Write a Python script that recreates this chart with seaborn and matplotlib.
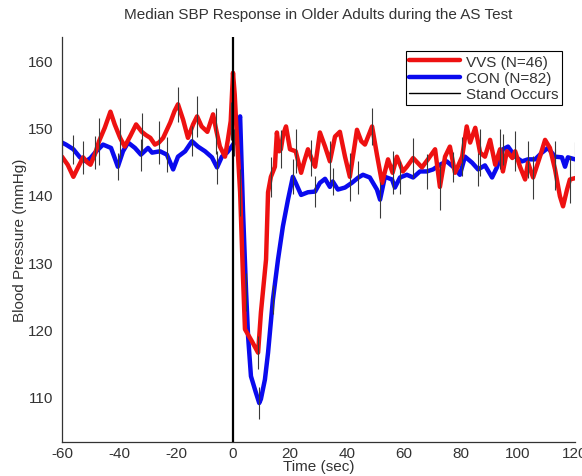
import numpy as np
import pandas as pd
import matplotlib
matplotlib.use("Agg")
import matplotlib.pyplot as plt
from matplotlib.lines import Line2D
import seaborn as sns

# VVS group (red) - time (sec) and median SBP (mmHg)
vvs_t = [-60, -58, -56, -54.5, -52.6, -51, -50, -48.5, -47, -45, -43, -41.5, -39.6, -38, -36, -34,
         -32, -30.5, -29, -27.4, -26, -24.5, -22, -20.5, -19.3, -17.5, -15.8, -14, -12.6, -11, -9, -7,
         -5.8, -4.6, -2.8, -1.8, -0.8, 0, 0.6, 1.2, 2.5, 3.5, 4.2, 6.5, 8.8, 9.8, 11.6, 12.3,
         13.3, 14.7, 15.4, 16.2, 16.8, 17.6, 18.6, 20, 22, 23.9, 25, 26.3, 27.5, 28.8, 30.5, 32.3,
         34, 35.8, 37.5, 39.3, 41, 43.5, 45, 46.3, 48.8, 50.5, 52.3, 54.4, 56, 57.5, 59.6, 61,
         63.2, 66.3, 68.4, 70.9, 72.6, 74.4, 76.1, 77.9, 80.4, 82, 83.2, 85, 86.7, 88.4, 90.2, 92,
         93.7, 94.7, 96.1, 98, 99, 100.7, 102.5, 103.5, 105.3, 107.7, 109.5, 111.2, 113, 114.7, 115.8, 117.2,
         118.2, 120]
vvs_bp = [145.7, 144.5, 142.7, 144.0, 145.6, 144.8, 144.5, 146.0, 148.0, 150.0, 152.4, 150.5, 148.5, 147.2, 148.8, 150.5,
          149.4, 148.9, 148.5, 147.5, 147.8, 148.5, 150.8, 152.5, 153.5, 151.2, 148.5, 150.5, 151.7, 150.2, 149.4, 152.0,
          149.5, 147.2, 145.7, 148.2, 151.0, 158.2, 155.0, 150.0, 140.4, 127.9, 120.0, 118.3, 116.5, 122.5, 130.4, 140.4,
          142.7, 144.2, 149.3, 146.5, 146.8, 149.0, 150.2, 146.8, 146.5, 143.3, 145.0, 146.8, 145.5, 144.2, 149.3, 147.2,
          145.0, 148.7, 149.4, 145.7, 142.7, 149.7, 148.0, 147.5, 150.2, 146.0, 141.8, 145.3, 143.3, 145.7, 143.5, 144.2,
          145.5, 144.1, 145.3, 146.8, 141.2, 145.7, 147.2, 143.3, 145.7, 150.2, 147.8, 150.0, 146.3, 145.7, 148.2, 144.5,
          146.8, 143.5, 146.5, 145.5, 146.5, 144.2, 142.3, 144.8, 142.6, 145.7, 148.2, 147.0, 143.8, 139.8, 138.3, 140.8,
          142.3, 142.5]

# CON group (blue)
con_t = [-60, -58.6, -56, -53.7, -51.6, -50, -48.4, -45.6, -42.8, -41.5, -40.4, -38.6, -36.8, -34.4, -32.3, -29.8,
         -28.4, -25.6, -23.2, -21, -19.3, -16.8, -14.4, -12.3, -9.8, -7.4, -5.6, -3.9, -2.1, -0.8, 0.5, 1.5,
         2.5, 3.5, 4.6, 5.3, 6.3, 8, 9.2, 9.8, 11.2, 12.3, 14, 15.8, 17.5, 19.3, 21, 22,
         23.9, 26.3, 28.8, 30.5, 32.3, 34, 35, 36.8, 39.3, 41.7, 44, 45.6, 48, 50.5, 51.6, 53.3,
         55.8, 56.8, 58.6, 61, 63.2, 65.6, 68, 70.2, 72.6, 75, 77.2, 79.6, 81.4, 83.9, 86, 88.4,
         90.9, 92.6, 94.7, 96.5, 99, 101.4, 103.5, 106, 108.4, 110.5, 113, 115.4, 116.5, 117.5, 120]
con_bp = [147.8, 147.5, 146.8, 145.6, 145.0, 145.5, 146.3, 147.5, 147.0, 145.5, 144.2, 146.5, 147.8, 147.0, 146.0, 147.0,
          146.3, 146.5, 146.0, 143.8, 145.7, 146.5, 148.0, 147.2, 146.5, 145.6, 144.1, 145.7, 146.3, 147.0, 147.8, 150.0,
          151.7, 137.8, 125.5, 118.9, 113.0, 110.6, 109.0, 109.6, 112.5, 116.5, 124.4, 130.4, 135.3, 139.3, 142.7, 141.8,
          140.0, 140.4, 140.5, 141.8, 142.4, 141.2, 142.0, 140.8, 141.1, 141.8, 142.6, 143.0, 142.6, 140.8, 139.3, 142.7,
          142.3, 141.1, 142.6, 143.0, 142.6, 143.5, 143.5, 143.8, 144.5, 145.0, 144.2, 143.0, 145.7, 144.8, 143.8, 144.4,
          142.6, 144.1, 146.8, 147.2, 145.7, 145.0, 145.3, 145.3, 146.3, 147.0, 145.7, 145.6, 144.2, 145.6, 145.3]

# error half-widths shown every 4th sample
vvs_sem = [3.0, 2.5, 3.5, 3.0, 2.8, 3.2, 2.6, 3.0, 3.4, 2.8, 3.5, 2.5, 3.0, 2.8, 3.3, 2.7,
           3.0, 3.6, 2.8, 3.2, 3.0, 3.4, 2.9, 3.5, 3.0, 3.0, 3.2, 3.0, 3.5]
con_sem = [2.2, 2.5, 2.0, 2.4, 2.6, 2.2, 2.5, 2.0, 2.8, 2.4, 2.2, 2.6, 2.3, 2.0, 2.5, 2.7,
           2.4, 2.6, 2.2, 2.5, 2.3, 2.8, 2.4, 2.6, 2.5, 2.2]

sns.set_style("white")
plt.rcParams['font.family'] = ['Liberation Sans', 'DejaVu Sans']
plt.rcParams['font.size'] = 11
plt.rcParams['axes.unicode_minus'] = False
txt = '#333333'

vvs = pd.DataFrame({'t': vvs_t, 'bp': vvs_bp})
con = pd.DataFrame({'t': con_t, 'bp': con_bp})

fig = plt.figure(figsize=(5.82, 4.77), dpi=100)
ax = fig.add_axes([0.1065, 0.0713, 0.8815, 0.8487])

sns.lineplot(data=con, x='t', y='bp', color='#0a0aee', linewidth=3.2, estimator=None, sort=False, ax=ax)
sns.lineplot(data=vvs, x='t', y='bp', color='#ee1111', linewidth=3.2, estimator=None, sort=False, ax=ax)

n = min(len(con_t[2::4]), len(con_sem))
ax.errorbar(con_t[2::4][:n], con_bp[2::4][:n], yerr=con_sem[:n], fmt='none', ecolor='#3a3a3a', elinewidth=0.8, zorder=4)
n = min(len(vvs_t[0::4]), len(vvs_sem))
ax.errorbar(vvs_t[0::4][:n], vvs_bp[0::4][:n], yerr=vvs_sem[:n], fmt='none', ecolor='#3a3a3a', elinewidth=0.8, zorder=4)

ax.axvline(0, color='black', linewidth=1.6, zorder=5)

ax.set_xlim(-60, 120)
ax.set_ylim(103.2, 163.5)
ax.set_xticks(range(-60, 121, 20))
ax.set_yticks(range(110, 161, 10))
ax.tick_params(axis='y', pad=6)
ax.tick_params(axis='x', pad=3)
ax.tick_params(direction='in', length=5, width=0.8, colors='#333333', labelsize=11,
               top=False, right=False, labelcolor=txt)
for s in ['top', 'right']:
    ax.spines[s].set_visible(False)
for s in ['left', 'bottom']:
    ax.spines[s].set_color('#333333')
    ax.spines[s].set_linewidth(0.9)

ax.set_title("Median SBP Response in Older Adults during the AS Test", fontsize=11, color=txt, pad=14)
ax.set_xlabel("Time (sec)", fontsize=11, color=txt, labelpad=-1)
ax.set_ylabel("Blood Pressure (mmHg)", fontsize=11, color=txt, labelpad=1)

handles = [Line2D([], [], color='#ee1111', lw=3.2),
           Line2D([], [], color='#0a0aee', lw=3.2),
           Line2D([], [], color='black', lw=1)]
leg = ax.legend(handles, ["VVS (N=46)", "CON (N=82)", "Stand Occurs"], loc='upper right',
                bbox_to_anchor=(0.99, 0.985), fontsize=11, handlelength=3.3, handletextpad=0.4,
                labelspacing=0.15, borderpad=0.25, fancybox=False, framealpha=1, edgecolor='black')
leg.get_frame().set_linewidth(0.8)
for t in leg.get_texts():
    t.set_color(txt)

fig.savefig("out.png", dpi=100)
